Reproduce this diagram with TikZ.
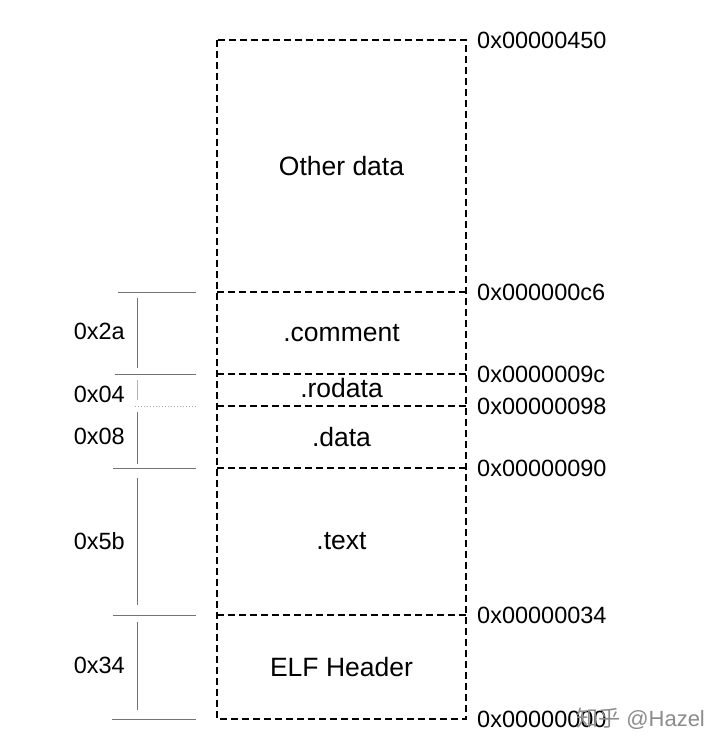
\documentclass[tikz,border=0pt]{standalone}
\usepackage{fontspec}
\setmainfont{Liberation Sans}
\newfontfamily\cjk{Noto Sans CJK SC}
\usetikzlibrary{calc}

\tikzset{
    seg/.style={draw, line width=1.8pt, dash pattern=on 7pt off 4pt},
    sect/.style={inner sep=0pt, font=\fontsize{26.5}{30}\selectfont},
    addr/.style={anchor=west, inner sep=0pt, font=\fontsize{23.5}{27}\selectfont},
    size/.style={anchor=east, inner sep=0pt, font=\fontsize{23.5}{27}\selectfont},
    dim/.style={draw=black!55, line width=1pt},
}

\begin{document}
\begin{tikzpicture}[x=1pt, y=-1pt]
    \useasboundingbox[fill=white] (0,0) rectangle (720,752);

    % Grenzen der Abschnitte
    \foreach \n/\y/\addr in {0/40/0x00000450, 1/292/0x000000c6, 2/374/0x0000009c,
        3/406/0x00000098, 4/468/0x00000090, 5/615/0x00000034, 6/719/0x00000000} {
        \coordinate (l\n) at (217,\y);
        \coordinate (r\n) at (466,\y);
        \node[addr] (a\n) at (477,\y) {\addr};
    }

    % Speicherblock
    \draw[seg] (l0) rectangle (r6);
    \foreach \n in {1,...,5}
        \draw[seg] (l\n) -- (r\n);

    \node[sect] (other)   at ($(l0)!0.5!(r1)$) {Other data};
    \node[sect] (comment) at ($(l1)!0.5!(r2)$) {.comment};
    \node[sect] (rodata)  at ($(l2)!0.5!(r3)+(0,-2)$) {.rodata};
    \node[sect] (data)    at ($(l3)!0.5!(r4)$) {.data};
    \node[sect] (text)    at ($(l4)!0.5!(r5)$) {.text};
    \node[sect] (elf)     at ($(l5)!0.5!(r6)$) {ELF Header};

    % Groessen links
    \foreach \n/\y/\xa in {1/292/118, 2/374/115, 4/468/113, 5/615/113, 6/719/112} {
        \coordinate (ta\n) at (\xa,\y);
        \coordinate (tb\n) at (196,\y);
        \coordinate (d\n) at (137,\y);
        \draw[dim] (ta\n) -- (tb\n);
    }
    \coordinate (ta3) at (135,406);
    \coordinate (tb3) at (196,406);
    \coordinate (d3) at (137,406);
    \draw[dim, draw=black!35, dotted] (ta3) -- (tb3);

    \draw[dim, shorten <=6pt, shorten >=6pt] (d1) -- (d2);
    \draw[dim, draw=black!30, shorten <=6pt, shorten >=6pt] (d2) -- (d3);
    \draw[dim, shorten <=6pt, shorten >=4pt] (d3) -- (d4);
    \draw[dim, shorten <=10pt, shorten >=10pt] (d4) -- (d5);
    \draw[dim, shorten <=7pt, shorten >=9pt] (d5) -- (d6);

    \node[size] (s2a) at (125,331) {0x2a};
    \node[size] (s04) at (125,394) {0x04};
    \node[size] (s08) at (125,436) {0x08};
    \node[size] (s5b) at (125,541) {0x5b};
    \node[size] (s34) at (125,665) {0x34};

    % Wasserzeichen
    \node[anchor=west, inner sep=0pt, text=black!45, font=\fontsize{22}{26}\selectfont] (mark)
        at (576,719) {{\cjk 知乎} @Hazel};
\end{tikzpicture}
\end{document}
